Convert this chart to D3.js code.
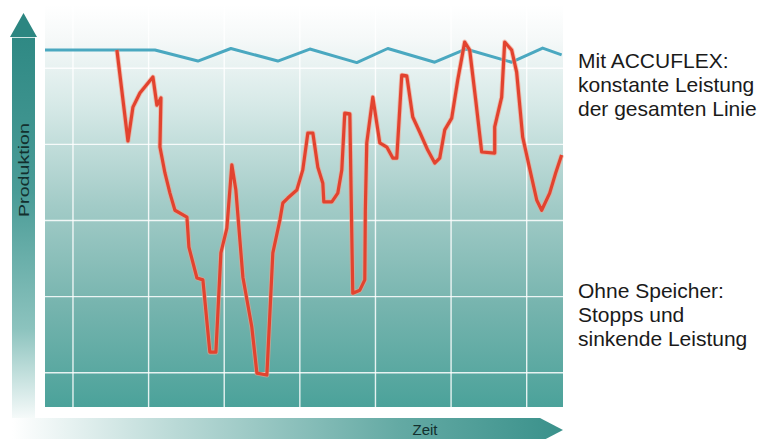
<!DOCTYPE html>
<html>
<head>
<meta charset="utf-8">
<script src="https://cdn.jsdelivr.net/npm/d3@7"></script>
<style>
  html, body { margin: 0; padding: 0; background: #ffffff; }
  svg { display: block; }
  text { font-family: "Liberation Sans", Arial, Helvetica, sans-serif; }
</style>
</head>
<body>
<svg id="chart" width="761" height="439"></svg>
<script>
// ---- data ----
const timeTicks = [10, 20, 30, 40, 50, 60, 70];
const levelTicks = [10, 30, 50, 70, 90];

// Mit ACCUFLEX (constant output)
const accuflexTime  = [6.3, 20.84, 26.52, 30.88, 37.09, 41.32, 47.53, 51.63, 57.84, 61.94, 68.01, 72.11, 74.62];
const accuflexLevel = [94.8, 94.8, 91.9, 95.2, 91.9, 95.05, 91.5, 95.2, 91.6, 95.05, 91.6, 95.3, 93.5];

// Ohne Speicher (stops, falling output)
const ohneTime = [15.81, 17.27, 17.93, 18.85, 20.57, 21.10, 21.63, 21.50, 22.16, 22.82, 23.48, 25.07, 25.33, 26.39, 27.18,
  28.10, 28.90, 29.56, 30.35, 31.01, 31.54, 32.47, 33.65, 34.32, 35.64, 36.43, 37.36, 37.75, 38.41, 39.60,
  40.39, 41.06, 41.72, 42.38, 43.04, 43.17, 44.23, 45.02, 45.55, 45.94, 46.61, 47.00, 47.93, 48.59, 48.66,
  48.85, 49.65, 50.57, 51.50, 52.29, 52.82, 53.48, 54.14, 54.93, 55.86, 56.91, 57.84, 58.50, 59.16, 60.08,
  60.88, 61.80, 62.46, 63.26, 64.05, 65.77, 65.77, 66.69, 67.09, 68.01, 68.67, 69.47, 70.52, 71.32, 71.98,
  73.04, 73.83, 74.62];
const ohneLevel = [94.8, 70.9, 79.8, 83.5, 87.7, 80.3, 82.2, 69.3, 62.5, 57.2, 52.7, 50.9, 43.0, 34.9, 34.4,
  15.4, 15.4, 41.5, 48.0, 64.6, 58.0, 35.1, 22.0, 9.9, 9.4, 41.5, 50.1, 54.6, 55.9, 58.0,
  63.3, 73.0, 73.0, 64.0, 59.8, 54.9, 54.9, 57.2, 63.3, 78.2, 78.0, 30.9, 31.7, 34.4, 52.7,
  70.4, 82.4, 70.4, 69.3, 66.4, 66.4, 88.2, 88.0, 77.2, 73.2, 68.5, 65.1, 66.4, 73.8, 76.9,
  86.9, 96.9, 94.8, 81.6, 68.0, 67.7, 74.6, 82.4, 96.9, 94.8, 89.0, 71.9, 62.5, 55.4, 52.7,
  57.2, 62.5, 67.2];

const yAxisLabel = "Produktion";
const xAxisLabel = "Zeit";
const noteAccuflex = ["Mit ACCUFLEX:", "konstante Leistung", "der gesamten Linie"];
const noteOhne = ["Ohne Speicher:", "Stopps und", "sinkende Leistung"];

// ---- drawing ----
const svg = d3.select("#chart");
const plot = { left: 45, right: 563, top: 5, bottom: 407 };

const x = d3.scaleLinear().domain([6.3, 74.8]).range([plot.left, plot.right]);
const y = d3.scaleLinear().domain([1, 104]).range([plot.bottom, 15]);

const defs = svg.append("defs");
const bg = defs.append("linearGradient").attr("id", "bgGrad")
  .attr("x1", 0).attr("y1", 0).attr("x2", 0).attr("y2", 1);
[[0, "#ffffff"], [0.08, "#f6f9f9"], [0.25, "#d6e9e7"], [0.5, "#a2cbc7"], [0.75, "#76b4ae"], [1, "#4ba29a"]]
  .forEach(([o, c]) => bg.append("stop").attr("offset", o).attr("stop-color", c));

const yBar = defs.append("linearGradient").attr("id", "yBarGrad")
  .attr("x1", 0).attr("y1", 0).attr("x2", 0).attr("y2", 1);
[[0, "#2f8984"], [0.4, "#4a9c97"], [0.75, "#8cc3be"], [1, "#ffffff"]]
  .forEach(([o, c]) => yBar.append("stop").attr("offset", o).attr("stop-color", c));

const xBar = defs.append("linearGradient").attr("id", "xBarGrad")
  .attr("x1", 0).attr("y1", 0).attr("x2", 1).attr("y2", 0);
[[0, "#ffffff"], [0.3, "#b9d9d6"], [0.7, "#64aaa4"], [1, "#3a918b"]]
  .forEach(([o, c]) => xBar.append("stop").attr("offset", o).attr("stop-color", c));

// plot background
svg.append("rect")
  .attr("x", plot.left).attr("y", plot.top)
  .attr("width", plot.right - plot.left).attr("height", plot.bottom - plot.top)
  .attr("fill", "url(#bgGrad)");

// grid
const grid = svg.append("g").attr("stroke", "#ffffff").attr("stroke-opacity", 0.85).attr("stroke-width", 1.4);
grid.selectAll("line.v").data(timeTicks).join("line").attr("class", "v")
  .attr("x1", d => x(d)).attr("x2", d => x(d))
  .attr("y1", plot.top).attr("y2", plot.bottom);
grid.selectAll("line.h").data(levelTicks).join("line").attr("class", "h")
  .attr("x1", plot.left).attr("x2", plot.right)
  .attr("y1", d => y(d)).attr("y2", d => y(d));

// y axis arrow
svg.append("path")
  .attr("d", "M12,37 L35,37 L35,426 L12,426 Z")
  .attr("fill", "url(#yBarGrad)");
svg.append("path")
  .attr("d", "M23.5,13 L37,37 L10,37 Z")
  .attr("fill", "#2c8681");
svg.append("line").attr("x1", 12).attr("x2", 35).attr("y1", 37.5).attr("y2", 37.5)
  .attr("stroke", "#cfe6e4").attr("stroke-width", 1);
svg.append("text")
  .attr("transform", "translate(29,170) rotate(-90)")
  .attr("text-anchor", "middle")
  .attr("font-size", 15)
  .attr("fill", "#13302e")
  .attr("textLength", 94)
  .attr("lengthAdjust", "spacingAndGlyphs")
  .text(yAxisLabel);

// x axis arrow
svg.append("path")
  .attr("d", "M12,418 L540,418 L563,430 L540,442 L12,442 Z")
  .attr("fill", "url(#xBarGrad)");
svg.append("text")
  .attr("x", 425).attr("y", 435)
  .attr("text-anchor", "middle")
  .attr("font-size", 15)
  .attr("fill", "#13302e")
  .text(xAxisLabel);

// lines
const line = d3.line().x(d => x(d[0])).y(d => y(d[1]));
const accData = accuflexTime.map((t, i) => [t, accuflexLevel[i]]);
const ohneData = ohneTime.map((t, i) => [t, ohneLevel[i]]);

svg.append("path").datum(accData)
  .attr("d", line).attr("fill", "none")
  .attr("stroke", "#4aa8c0").attr("stroke-width", 3)
  .attr("stroke-linejoin", "round");

svg.append("path").datum(ohneData)
  .attr("d", line).attr("fill", "none")
  .attr("stroke", "#f5a08a").attr("stroke-opacity", 0.6).attr("stroke-width", 5)
  .attr("stroke-linejoin", "round");
svg.append("path").datum(ohneData)
  .attr("d", line).attr("fill", "none")
  .attr("stroke", "#e2432f").attr("stroke-width", 3.2)
  .attr("stroke-linejoin", "round");

// notes
function note(lines, y0) {
  svg.append("g").selectAll("text").data(lines).join("text")
    .attr("x", 578).attr("y", (d, i) => y0 + i * 24)
    .attr("font-size", 21)
    .attr("fill", "#1a1a1a")
    .text(d => d);
}
note(noteAccuflex, 68);
note(noteOhne, 298);
</script>
</body>
</html>
